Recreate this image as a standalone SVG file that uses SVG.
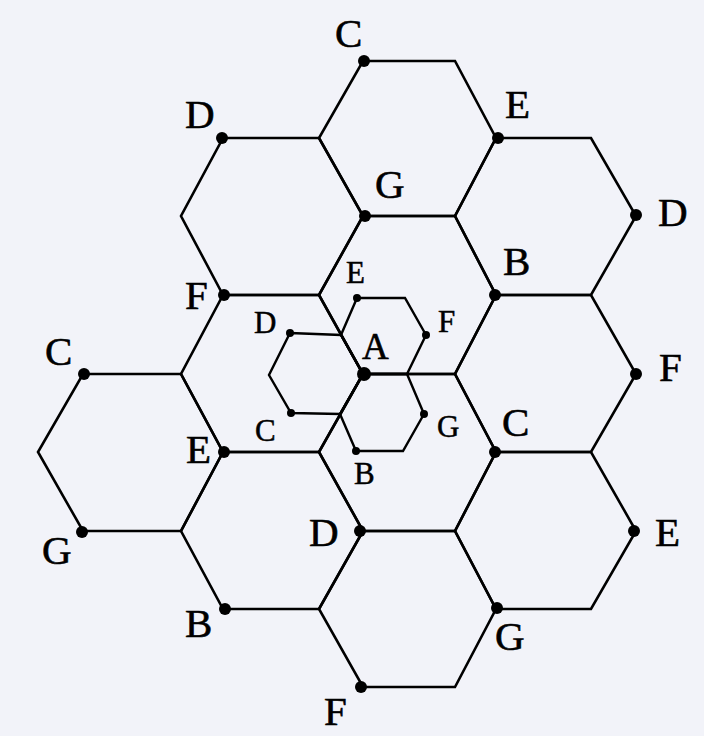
<svg xmlns="http://www.w3.org/2000/svg" width="704" height="736" viewBox="0 0 704 736">
<style>
.hex{fill:none;stroke:#000;stroke-width:2.6;stroke-linejoin:miter}
.shex{fill:none;stroke:#000;stroke-width:2.4}
.dot{fill:#000}
.L{font-family:"Liberation Serif","Times New Roman",serif;font-size:41px;fill:#000;stroke:#000;stroke-width:0.6}
.S{font-family:"Liberation Serif","Times New Roman",serif;font-size:31px;fill:#000;stroke:#000;stroke-width:0.5}
.A{font-family:"Liberation Serif","Times New Roman",serif;font-size:37px;fill:#000;stroke:#000;stroke-width:0.6}
</style>
<rect width="704" height="736" fill="#f2f3f9"/>
<g id="cells">
<polygon id="h-top" class="hex" points="363,61 455,61 496,138 455,216 363,216 319,138"/>
<polygon id="h-upleft" class="hex" points="223,138 319,138 363,216 319,295 223,295 181,216"/>
<polygon id="h-upright" class="hex" points="496,138 591,138 636,216 591,295 496,295 455,216"/>
<polygon id="h-midtop" class="hex" points="363,216 455,216 496,295 455,374 363,374 319,295"/>
<polygon id="h-midleft" class="hex" points="223,295 319,295 363,374 319,452 223,452 181,374"/>
<polygon id="h-right" class="hex" points="496,295 591,295 636,374 591,452 496,452 455,374"/>
<polygon id="h-midbottom" class="hex" points="363,374 455,374 496,452 455,531 363,531 319,452"/>
<polygon id="h-left" class="hex" points="83,374 181,374 223,452 181,531 83,531 38,452"/>
<polygon id="h-lowleft" class="hex" points="223,452 319,452 363,531 319,609 223,609 181,531"/>
<polygon id="h-lowright" class="hex" points="496,452 591,452 636,531 591,609 496,609 455,531"/>
<polygon id="h-bottom" class="hex" points="363,531 455,531 496,609 455,687 363,687 319,609"/>
</g>
<g id="small-cells">
<polygon id="s-upright" class="shex" points="357,298 405,298 426,335 407,374 363,374 341,335"/>
<polygon id="s-left" class="shex" points="290,333 341,335 363,374 340,414 291,413 269,375"/>
<polygon id="s-lowright" class="shex" points="363,374 407,374 424,414 403,451 356,451 340,414"/>
</g>
<g id="connectors"/>
<g id="n-C-top"><circle class="dot" cx="364" cy="61" r="6"/><text class="L" x="335" y="47">C</text></g>
<g id="n-D-topleft"><circle class="dot" cx="222" cy="138" r="6"/><text class="L" x="185" y="128">D</text></g>
<g id="n-E-topright"><circle class="dot" cx="498" cy="138" r="6"/><text class="L" x="505" y="118">E</text></g>
<g id="n-G-top"><circle class="dot" cx="365" cy="216" r="6"/><text class="L" x="375" y="198">G</text></g>
<g id="n-D-right"><circle class="dot" cx="636" cy="215" r="6"/><text class="L" x="658" y="226">D</text></g>
<g id="n-B-right"><circle class="dot" cx="495" cy="295" r="6"/><text class="L" x="503" y="275">B</text></g>
<g id="n-F-left"><circle class="dot" cx="224" cy="295" r="6"/><text class="L" x="185" y="309">F</text></g>
<g id="n-C-left"><circle class="dot" cx="84" cy="374" r="6"/><text class="L" x="45" y="365">C</text></g>
<g id="n-F-right"><circle class="dot" cx="636" cy="374" r="6"/><text class="L" x="659" y="381">F</text></g>
<g id="n-C-right"><circle class="dot" cx="495" cy="452" r="6"/><text class="L" x="502" y="436">C</text></g>
<g id="n-E-left"><circle class="dot" cx="224" cy="452" r="6"/><text class="L" x="186" y="463">E</text></g>
<g id="n-G-left"><circle class="dot" cx="82" cy="532" r="6"/><text class="L" x="42" y="564">G</text></g>
<g id="n-D-low"><circle class="dot" cx="360" cy="531" r="6"/><text class="L" x="309" y="546">D</text></g>
<g id="n-E-right"><circle class="dot" cx="634" cy="531" r="6"/><text class="L" x="655" y="546">E</text></g>
<g id="n-B-low"><circle class="dot" cx="225" cy="609" r="6"/><text class="L" x="185" y="637">B</text></g>
<g id="n-G-low"><circle class="dot" cx="497" cy="608" r="6"/><text class="L" x="495" y="650">G</text></g>
<g id="n-F-bottom"><circle class="dot" cx="361" cy="687" r="6"/><text class="L" x="324" y="725">F</text></g>
<g id="n-A"><circle class="dot" cx="364" cy="374" r="7"/><text class="A" x="362" y="359">A</text></g>
<g id="s-E"><circle class="dot" cx="357" cy="298" r="4"/><text class="S" x="346" y="283">E</text></g>
<g id="s-D"><circle class="dot" cx="290" cy="333" r="4"/><text class="S" x="254" y="333">D</text></g>
<g id="s-F"><circle class="dot" cx="426" cy="335" r="4"/><text class="S" x="438" y="332">F</text></g>
<g id="s-G"><circle class="dot" cx="424" cy="414" r="4"/><text class="S" x="437" y="437">G</text></g>
<g id="s-C"><circle class="dot" cx="291" cy="413" r="4"/><text class="S" x="255" y="441">C</text></g>
<g id="s-B"><circle class="dot" cx="356" cy="451" r="4"/><text class="S" x="354" y="484">B</text></g>
</svg>
